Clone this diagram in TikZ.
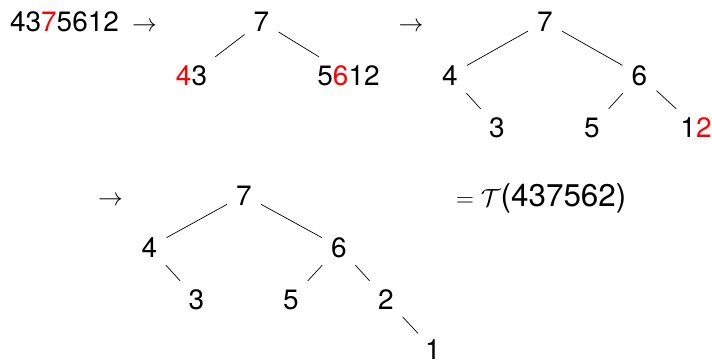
\documentclass[tikz,border=0pt]{standalone}
\usepackage[no-math]{fontspec}
\setmainfont{TeX Gyre Heros}
\begin{document}
\begin{tikzpicture}[x=1bp,y=-1bp,
  lbl/.style={font=\fontsize{28.1}{34}\selectfont, inner xsep=9bp, inner ysep=8bp,
     text height=20bp, text depth=0bp, anchor=base},
  txt/.style={font=\fontsize{28.1}{34}\selectfont, inner sep=0pt, anchor=base},
  edge/.style={draw=black, line width=0.7bp}]
\useasboundingbox (0,0) rectangle (712,362);
% row 1
\node[txt] (s1) at (64.5,31.5) {43\textcolor{red}{7}5612};
\node[txt] (a1) at (144.5,31.5) {$\rightarrow$};
\node[lbl] (t1r) at (261.5,31.5) {7};
\node[lbl] (t1a) at (191.5,85) {\textcolor{red}{4}3};
\node[lbl] (t1b) at (348.5,85) {5\textcolor{red}{6}12};
\draw[edge] (t1r) -- (t1a);
\draw[edge] (t1r) -- (t1b);
\node[txt] (a2) at (411,31.5) {$\rightarrow$};
\node[lbl] (t2r) at (545,31.5) {7};
\node[lbl] (t2a) at (450,85) {4};
\node[lbl] (t2b) at (639.5,85) {6};
\node[lbl] (t2c) at (497,137) {3};
\node[lbl] (t2d) at (592,137) {5};
\node[lbl] (t2e) at (696,137) {1\textcolor{red}{2}};
\draw[edge] (t2r) -- (t2a);
\draw[edge] (t2r) -- (t2b);
\draw[edge] (t2a) -- (t2c);
\draw[edge] (t2b) -- (t2d);
\draw[edge] (t2b) -- (t2e);
% row 2
\node[txt] (a3) at (110.5,205) {$\rightarrow$};
\node[lbl] (t3r) at (244,205) {7};
\node[lbl] (t3a) at (149.5,257) {4};
\node[lbl] (t3b) at (339,257) {6};
\node[lbl] (t3c) at (196.5,309) {3};
\node[lbl] (t3d) at (291,309) {5};
\node[lbl] (t3e) at (386,309) {2};
\node[lbl, inner ysep=1.5bp] (t3f) at (433,359.5) {1};
\draw[edge] (t3r) -- (t3a);
\draw[edge] (t3r) -- (t3b);
\draw[edge] (t3a) -- (t3c);
\draw[edge] (t3b) -- (t3d);
\draw[edge] (t3b) -- (t3e);
\draw[edge, shorten >=6bp] (t3e) -- (t3f);
\node[txt, anchor=base west, font=\fontsize{31.5}{37}\selectfont] (eq) at (456,206) {$=\mathcal{T}$(437562)};
\end{tikzpicture}
\end{document}
